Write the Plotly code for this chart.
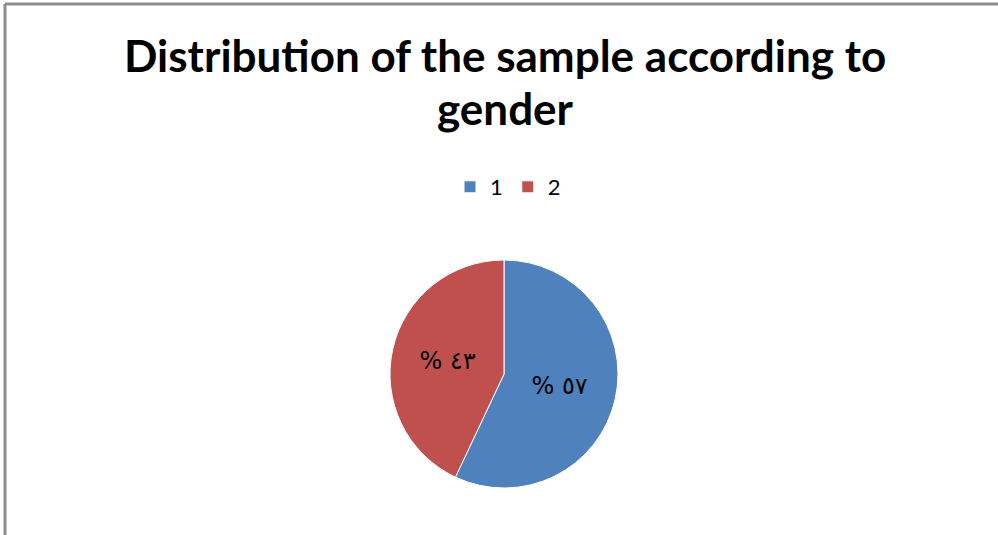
import plotly.graph_objects as go

categories = ["1", "2"]
values = [57, 43]
slice_text = ["% ٥٧", "% ٤٣"]
colors = ["#4F81BD", "#C0504D"]
title_lines = ["Distribution of the sample according to", "gender"]

W, H = 998, 535

fig = go.Figure(go.Pie(
    labels=categories,
    values=values,
    text=slice_text,
    textinfo="text",
    textposition="inside",
    insidetextorientation="horizontal",
    textfont=dict(family="DejaVu Sans, Lato", size=24, color="black"),
    marker=dict(colors=colors, line=dict(color="white", width=1)),
    sort=False,
    direction="clockwise",
    rotation=0,
    domain=dict(x=[390 / W, 618 / W], y=[1 - 488 / H, 1 - 260 / H]),
    hoverinfo="label+percent",
))

for line, yc in zip(title_lines, [55, 108]):
    fig.add_annotation(text=line, x=505 / W, y=1 - yc / H, xref="paper", yref="paper",
                       showarrow=False, font=dict(family="Lato", size=44, color="black", weight="bold"),
                       xanchor="center", yanchor="middle")

fig.add_shape(type="line", xref="paper", yref="paper", x0=5 / W, y0=0, x1=5 / W, y1=1 - 4 / H,
              line=dict(color="#8C8C8C", width=3))
fig.add_shape(type="line", xref="paper", yref="paper", x0=5 / W, y0=1 - 4 / H, x1=1, y1=1 - 4 / H,
              line=dict(color="#8C8C8C", width=3))

fig.update_layout(
    width=W, height=H,
    margin=dict(l=0, r=0, t=0, b=0),
    paper_bgcolor="white",
    plot_bgcolor="white",
    showlegend=True,
    legend=dict(orientation="h", x=508 / W, y=1 - 187 / H, xanchor="center", yanchor="middle",
                font=dict(family="Lato", size=22, color="black"), itemwidth=30,
                traceorder="normal"),
)

fig.write_html("out.html",
               config={"displayModeBar": False},
               post_script="document.body.style.margin='0px';document.body.style.overflow='hidden';")
